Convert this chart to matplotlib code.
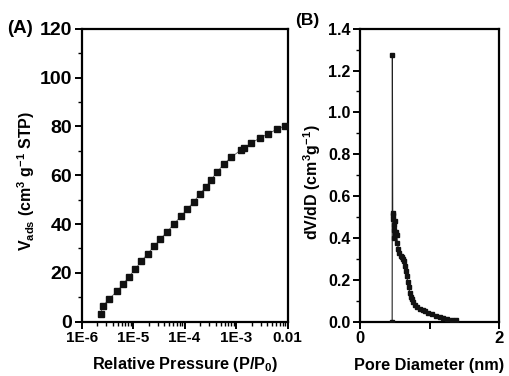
import numpy as np
import matplotlib
matplotlib.use('Agg')
import matplotlib.pyplot as plt
from matplotlib.ticker import MultipleLocator, LogLocator, NullFormatter

# (A) adsorption isotherm
pressure = [2.34e-6, 2.59e-6, 3.44e-6, 4.91e-6, 6.43e-6, 8.40e-6, 1.10e-5,
            1.44e-5, 1.91e-5, 2.54e-5, 3.36e-5, 4.59e-5, 6.19e-5, 8.36e-5,
            1.12e-4, 1.50e-4, 1.95e-4, 2.56e-4, 3.29e-4, 4.30e-4, 5.71e-4,
            7.92e-4, 1.22e-3, 1.40e-3, 1.96e-3, 2.94e-3, 4.14e-3, 6.11e-3,
            8.75e-3]
v_ads = [3.3, 6.4, 9.4, 12.5, 15.5, 18.5, 21.6, 24.7, 27.8, 30.8, 33.8, 36.9,
         39.9, 43.1, 46.0, 49.1, 52.1, 55.1, 58.2, 61.4, 64.4, 67.3, 70.2,
         71.0, 73.2, 75.3, 76.9, 78.8, 80.2]

# (B) pore size distribution
pore_d = [0.462, 0.465, 0.470, 0.475, 0.480, 0.485, 0.490, 0.495, 0.500,
          0.505, 0.515, 0.528, 0.537, 0.552, 0.566, 0.586, 0.604, 0.623,
          0.638, 0.652, 0.662, 0.671, 0.686, 0.701, 0.715, 0.729, 0.744,
          0.767, 0.796, 0.825, 0.863, 0.902, 0.940, 0.983, 1.040, 1.094,
          1.151, 1.199, 1.256, 1.319, 1.381]
dvdd = [0.0, 1.274, 0.49, 0.51, 0.518, 0.46, 0.44, 0.40, 0.48, 0.42, 0.43,
        0.414, 0.377, 0.346, 0.327, 0.315, 0.308, 0.301, 0.291, 0.268,
        0.244, 0.218, 0.191, 0.164, 0.139, 0.119, 0.107, 0.093, 0.080,
        0.070, 0.061, 0.054, 0.050, 0.043, 0.035, 0.029, 0.022, 0.018,
        0.013, 0.010, 0.008]

plt.rcParams['font.family'] = ['Liberation Sans', 'DejaVu Sans']
plt.rcParams['font.weight'] = 'bold'
plt.rcParams['mathtext.default'] = 'regular'

fig = plt.figure(figsize=(5.10, 3.76), dpi=100)
ax1 = fig.add_axes([0.160, 0.1444, 0.404, 0.7793])
ax2 = fig.add_axes([0.706, 0.1444, 0.2725, 0.7793])

for ax in (ax1, ax2):
    for sp in ax.spines.values():
        sp.set_linewidth(1.6)
    ax.tick_params(which='major', direction='out', length=5, width=1.4, pad=2)
    ax.tick_params(which='minor', direction='out', length=3, width=1.0)
    ax.tick_params(top=False, right=False, which='both')

# panel A
ax1.plot(pressure, v_ads, color='#555555', lw=0.6, marker='s', ms=5,
         mfc='#111111', mec='#111111', zorder=3)
ax1.set_xscale('log')
ax1.set_xlim(1e-6, 1e-2)
ax1.set_ylim(0, 120)
ax1.xaxis.set_minor_locator(LogLocator(base=10, subs=np.arange(2, 10), numticks=20))
ax1.xaxis.set_minor_formatter(NullFormatter())
ax1.set_xticks([1e-6, 1e-5, 1e-4, 1e-3, 1e-2])
ax1.set_xticklabels(['1E-6', '1E-5', '1E-4', '1E-3', '0.01'],
                    fontsize=11, fontweight='bold')
ax1.yaxis.set_major_locator(MultipleLocator(20))
ax1.yaxis.set_minor_locator(MultipleLocator(10))
for lab in ax1.get_yticklabels():
    lab.set_fontsize(14)
    lab.set_fontweight('bold')
ax1.set_xlabel('Relative Pressure (P/P$_{0}$)', fontsize=11.7,
               fontweight='bold', labelpad=7)
ax1.set_ylabel('V$_{ads}$ (cm$^{3}$ g$^{-1}$ STP)', fontsize=11.5,
               fontweight='bold')
ax1.yaxis.set_label_coords(-0.215, 0.48)
fig.text(0.014, 0.925, '(A)', fontsize=13.5, fontweight='bold', va='center')

# panel B
ax2.plot(pore_d, dvdd, color='#222222', lw=0.8, marker='s', ms=2.6,
         mfc='#111111', mec='#111111', zorder=3)
ax2.set_xlim(0, 2)
ax2.set_ylim(0, 1.4)
ax2.set_xticks([0, 1, 2])
ax2.set_xticklabels(['0', '', '2'], fontsize=12, fontweight='bold')
ax2.yaxis.set_major_locator(MultipleLocator(0.2))
ax2.yaxis.set_minor_locator(MultipleLocator(0.1))
ax2.yaxis.set_major_formatter(plt.FormatStrFormatter('%.1f'))
for lab in ax2.get_yticklabels():
    lab.set_fontsize(11.5)
    lab.set_fontweight('bold')
ax2.set_xlabel('Pore Diameter (nm)', fontsize=11.7, fontweight='bold',
               labelpad=8)
ax2.set_ylabel('dV/dD (cm$^{3}$g$^{-1}$)', fontsize=11.5, fontweight='bold')
ax2.yaxis.set_label_coords(-0.27, 0.475)
fig.text(0.578, 0.945, '(B)', fontsize=12.5, fontweight='bold', va='center')

fig.savefig('out.png', dpi=100)
